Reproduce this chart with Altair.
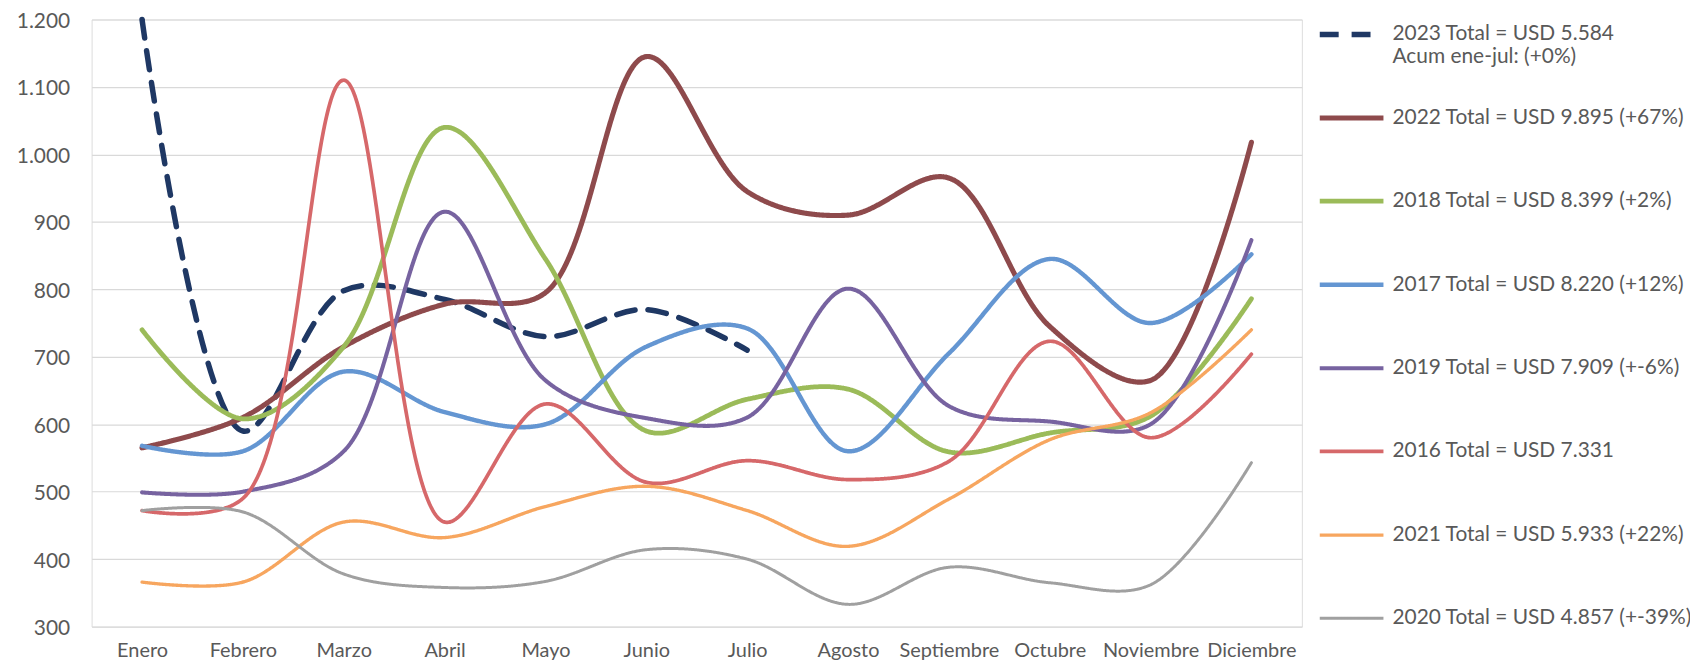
import altair as alt
import pandas as pd

months = ["Enero", "Febrero", "Marzo", "Abril", "Mayo", "Junio", "Julio",
          "Agosto", "Septiembre", "Octubre", "Noviembre", "Diciembre"]

series_order = ["2023", "2022", "2018", "2017", "2019", "2016", "2021", "2020"]

v2023 = [1200, 590, 798, 785, 730, 770, 710]
v2022 = [565, 610, 715, 778, 795, 1145, 945, 910, 965, 745, 665, 1018]
v2018 = [740, 608, 715, 1040, 845, 590, 637, 652, 559, 587, 612, 786]
v2017 = [568, 560, 678, 618, 600, 715, 742, 560, 705, 845, 750, 852]
v2019 = [499, 500, 560, 915, 665, 609, 610, 801, 627, 604, 600, 873]
v2016 = [472, 490, 1110, 455, 630, 514, 546, 518, 545, 723, 580, 704]
v2021 = [366, 366, 455, 432, 478, 508, 472, 419, 489, 577, 617, 740]
v2020 = [472, 470, 378, 358, 367, 414, 400, 333, 388, 365, 362, 543]

legend_labels = {
    "2023": ["2023 Total = USD 5.584", "Acum ene-jul: (+0%)"],
    "2022": ["2022 Total = USD 9.895 (+67%)"],
    "2018": ["2018 Total = USD 8.399 (+2%)"],
    "2017": ["2017 Total = USD 8.220 (+12%)"],
    "2019": ["2019 Total = USD 7.909 (+-6%)"],
    "2016": ["2016 Total = USD 7.331"],
    "2021": ["2021 Total = USD 5.933 (+22%)"],
    "2020": ["2020 Total = USD 4.857 (+-39%)"],
}

colors = ["#1F3864", "#8E4A4C", "#9BBB59", "#6496D2", "#7763A0", "#D6686A", "#F7A65F", "#A0A0A0"]
dashes = [[19, 13], [1, 0], [1, 0], [1, 0], [1, 0], [1, 0], [1, 0], [1, 0]]
widths = [5.5, 3, 3, 3, 3, 3, 3, 3]

series_values = {
    "2023": v2023, "2022": v2022, "2018": v2018, "2017": v2017,
    "2019": v2019, "2016": v2016, "2021": v2021, "2020": v2020,
}

rows = []
for s in series_order:
    for i, v in enumerate(series_values[s]):
        rows.append({"Mes": months[i], "Serie": s, "Valor": v})
df = pd.DataFrame(rows)

def js_arr(lst):
    return "[" + ",".join("'" + t + "'" for t in lst) + "]"

label_expr = "{" + ",".join("'" + k + "':" + js_arr(v) for k, v in legend_labels.items()) + "}[datum.label]"

FONT = "Lato"
TXT = "#595959"

legend = alt.Legend(
    title=None, orient="none", legendX=1231, legendY=-20,
    symbolType="stroke", symbolSize=4096, symbolStrokeWidth=4,
    labelExpr=label_expr, labelFont=FONT, labelFontSize=21, labelColor=TXT,
    labelOffset=6, rowPadding=16, padding=0, labelLimit=400, gridAlign="all",
    labelBaseline="middle",
)

chart = alt.Chart(df).mark_line(
    interpolate="catmull-rom", strokeCap="round"
).encode(
    x=alt.X("Mes:N", sort=months, title=None,
            scale=alt.Scale(type="point", padding=0.5),
            axis=alt.Axis(labelAngle=0, ticks=False, domain=False, grid=False,
                          labelFont=FONT, labelFontSize=20, labelColor=TXT,
                          labelPadding=14)),
    y=alt.Y("Valor:Q", title=None,
            scale=alt.Scale(domain=[300, 1200], nice=False, zero=False),
            axis=alt.Axis(values=list(range(300, 1201, 100)), ticks=False, domain=False,
                          labelFont=FONT, labelFontSize=21, labelColor=TXT, labelPadding=22,
                          labelOffset=2,
                          gridColor="#D9D9D9", gridWidth=1.2,
                          labelExpr="replace(format(datum.value, ','), ',', '.')")),
    color=alt.Color("Serie:N", scale=alt.Scale(domain=series_order, range=colors), legend=legend),
    strokeDash=alt.StrokeDash("Serie:N", scale=alt.Scale(domain=series_order, range=dashes), legend=None),
    strokeWidth=alt.StrokeWidth("Serie:N", scale=alt.Scale(domain=series_order, range=widths), legend=None),
).properties(
    width=1216, height=610,
    autosize=alt.AutoSizeParams(type="none"),
    padding={"left": 84, "top": 10, "right": 390, "bottom": 36},
).configure_view(stroke=None).configure(background="white")

chart.save("out.html", embed_options={"renderer": "svg", "actions": False})
